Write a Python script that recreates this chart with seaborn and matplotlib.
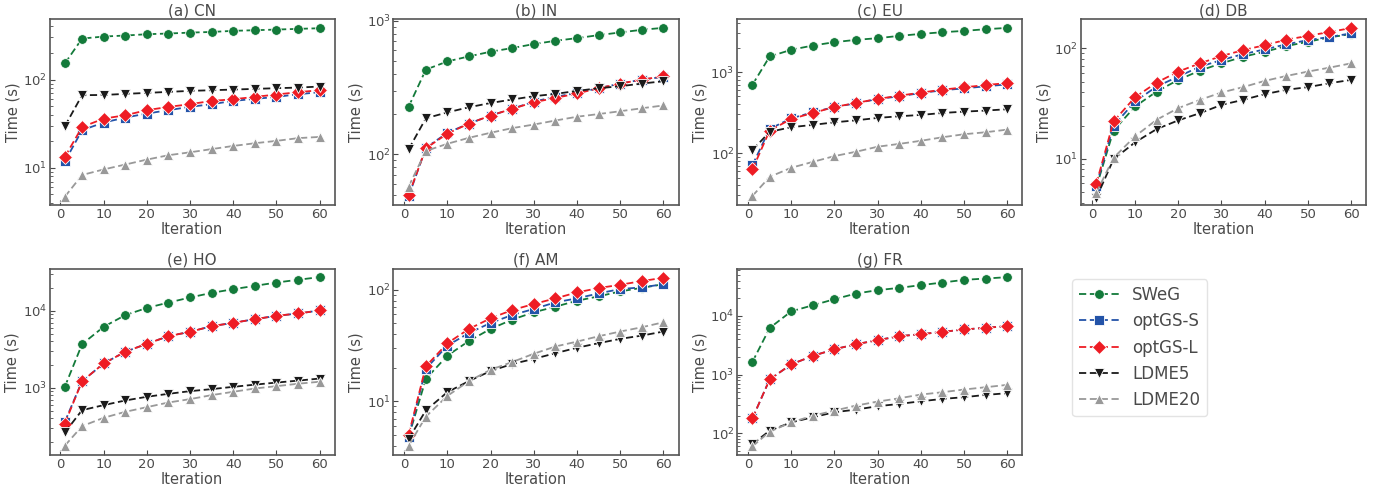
import numpy as np
import pandas as pd
import seaborn as sns
import matplotlib.pyplot as plt

iterations = [1, 5, 10, 15, 20, 25, 30, 35, 40, 45, 50, 55, 60]
methods = ["SWeG", "optGS-S", "optGS-L", "LDME5", "LDME20"]
panel_titles = ["(a) CN", "(b) IN", "(c) EU", "(d) DB", "(e) HO", "(f) AM", "(g) FR"]

# running time (s) per dataset
cn = {
    "SWeG": [152, 291, 307, 315, 326, 332, 340, 346, 356, 362, 368, 375, 381],
    "optGS-S": [11.8, 26.7, 32.6, 37.1, 41.2, 45, 49.1, 52.6, 57.3, 60.4, 63.6, 68.2, 71.9],
    "optGS-L": [13.3, 29, 36.1, 39.4, 45, 49, 52.6, 57.3, 59.8, 63.6, 67.7, 71.9, 75.7],
    "LDME5": [29.6, 66.5, 66.9, 68.8, 70.6, 72.5, 74.4, 75.7, 77, 78.4, 79.8, 81.1, 83.3],
    "LDME20": [4.7, 8.3, 9.6, 10.9, 12.4, 13.9, 15, 16.3, 17.7, 19, 20.2, 21.7, 22.4],
}
in_ = {
    "SWeG": [227, 430, 495, 540, 585, 623, 667, 706, 739, 778, 815, 853, 882],
    "optGS-S": [48.5, 112, 145, 170, 195, 219, 248, 269, 288, 312, 338, 362, 379],
    "optGS-L": [49.5, 111, 143, 170, 195, 219, 245, 264, 285, 312, 338, 362, 383],
    "LDME5": [109, 186, 206, 225, 242, 257, 272, 283, 298, 312, 323, 338, 352],
    "LDME20": [57.4, 106, 120, 133, 145, 157, 167, 179, 191, 200, 210, 221, 232],
}
eu = {
    "SWeG": [698, 1559, 1884, 2128, 2339, 2500, 2619, 2798, 2960, 3104, 3224, 3381, 3510],
    "optGS-S": [71, 199, 269, 319, 371, 412, 466, 502, 552, 596, 630, 667, 705],
    "optGS-L": [63, 190, 264, 313, 371, 416, 466, 512, 557, 607, 648, 692, 732],
    "LDME5": [109, 183, 209, 223, 240, 254, 272, 285, 296, 313, 325, 335, 348],
    "LDME20": [29.6, 51, 66, 78, 92, 104, 120, 130, 142, 157, 171, 181, 195],
}
db = {
    "SWeG": [5.5, 18, 29.8, 40.7, 51.9, 63, 73.3, 84.1, 93.3, 105, 115, 126, 135],
    "optGS-S": [5.7, 19.9, 33.1, 45.2, 55.6, 68.4, 78.5, 88.9, 98, 109, 119, 127, 137],
    "optGS-L": [5.9, 21.8, 36.2, 49.1, 61.7, 73.3, 85.3, 96.6, 107, 120, 130, 141, 153],
    "LDME5": [4.4, 9.9, 14.1, 18.6, 22.3, 25.9, 30.8, 34.2, 38.5, 42.2, 44.6, 48.4, 51.9],
    "LDME20": [4.9, 10.2, 16, 22.6, 28.8, 34.2, 39.9, 44.6, 50.8, 56.3, 61.7, 67, 73.3],
}
ho = {
    "SWeG": [1030, 3690, 6200, 8790, 10900, 12800, 14900, 17100, 19100, 21100, 23300, 25300, 27400],
    "optGS-S": [361, 1220, 2070, 2940, 3730, 4690, 5340, 6320, 6980, 7790, 8610, 9230, 10100],
    "optGS-L": [344, 1220, 2070, 2940, 3730, 4690, 5340, 6320, 6980, 7790, 8610, 9230, 10100],
    "LDME5": [263, 513, 596, 685, 765, 836, 905, 962, 1030, 1100, 1170, 1240, 1320],
    "LDME20": [177, 318, 408, 488, 561, 645, 713, 804, 888, 980, 1050, 1130, 1200],
}
am = {
    "SWeG": [4.8, 15.9, 25.7, 34.8, 44.6, 54, 62.8, 70.5, 79.7, 87.2, 96.6, 104, 112],
    "optGS-S": [4.8, 19.6, 31.6, 41, 50.4, 59.4, 67.2, 77.1, 83.7, 92.7, 101.4, 105, 112],
    "optGS-L": [5.0, 20.6, 33.2, 44.6, 55.5, 65.8, 74.5, 83.7, 94.6, 103.5, 110.8, 119.5, 128],
    "LDME5": [4.6, 8.3, 12.1, 15.2, 18.7, 21.6, 24.0, 27.0, 30.2, 33.2, 36.3, 38.8, 42.2],
    "LDME20": [4.0, 7.3, 11.2, 15.2, 19.2, 22.5, 26.7, 31, 34.3, 38.3, 42.2, 46.1, 51.1],
}
fr = {
    "SWeG": [1650, 6240, 12000, 15200, 19300, 24100, 27500, 30100, 33500, 37100, 41200, 43400, 45800],
    "optGS-S": [180, 832, 1500, 2090, 2710, 3300, 3870, 4520, 4890, 5360, 5880, 6280, 6700],
    "optGS-L": [180, 832, 1500, 2090, 2710, 3300, 3870, 4520, 4890, 5360, 5880, 6280, 6700],
    "LDME5": [65.8, 111, 154, 188, 229, 254, 290, 317, 352, 386, 413, 452, 483],
    "LDME20": [60, 107, 154, 200, 244, 297, 348, 396, 458, 502, 558, 611, 670],
}
datasets = [cn, in_, eu, db, ho, am, fr]
y_limits = [(3.78, 482), (41.7, 1023), (22.8, 4490), (3.8, 184),
            (134, 34800), (3.3, 153), (42.7, 62800)]

palette = {"SWeG": "#137a3a", "optGS-S": "#2353a8", "optGS-L": "#ee1c24",
           "LDME5": "#1a1a1a", "LDME20": "#999999"}
markers = {"SWeG": "o", "optGS-S": "s", "optGS-L": "D", "LDME5": "v", "LDME20": "^"}
dashes = {m: (4, 2) for m in methods}

sns.set_style("ticks")
text_col = "#4a4a4a"
plt.rcParams.update({
    "xtick.direction": "in", "ytick.direction": "in",
    "text.color": text_col, "axes.labelcolor": text_col,
    "xtick.color": text_col, "ytick.color": text_col,
    "axes.edgecolor": "#555555", "axes.linewidth": 1.2,
    "font.size": 10,
})
plt.rcParams["font.family"] = ["DejaVu Sans"]

fig, axs = plt.subplots(2, 4, figsize=(13.8, 4.93), dpi=100)
fig.subplots_adjust(left=0.036, right=0.99, top=0.961, bottom=0.077,
                    wspace=0.206, hspace=0.344)

for i, (data, title, ylim) in enumerate(zip(datasets, panel_titles, y_limits)):
    ax = axs.flat[i]
    df = pd.DataFrame(
        [(it, m, v) for m in methods for it, v in zip(iterations, data[m])],
        columns=["Iteration", "method", "time"],
    )
    sns.lineplot(data=df, x="Iteration", y="time", hue="method", style="method",
                 hue_order=methods, style_order=methods, palette=palette,
                 markers=markers, dashes=dashes, markersize=7, markeredgewidth=0.6,
                 linewidth=1.3, ax=ax, legend=(i == 0))
    ax.set_yscale("log")
    ax.set_ylim(*ylim)
    ax.set_xlim(-2.5, 63.5)
    ax.set_xticks(range(0, 61, 10))
    ax.set_title(title, fontsize=11, pad=3)
    ax.set_xlabel("Iteration", fontsize=10.5, labelpad=1)
    ax.set_ylabel("Time (s)", fontsize=10.5, labelpad=2)
    ax.tick_params(axis="both", labelsize=9.5, pad=2)
    ax.tick_params(which="minor", direction="in", length=2)
    ax.tick_params(which="major", length=3.5)

handles, labels = axs.flat[0].get_legend_handles_labels()
axs.flat[0].get_legend().remove()
axs.flat[7].axis("off")
axs.flat[7].legend(handles, labels, loc="upper left", bbox_to_anchor=(-0.06, 0.99),
                   fontsize=12, frameon=True, edgecolor="#dddddd",
                   handlelength=2.4, labelspacing=0.5)

fig.savefig("out.png", dpi=100)
